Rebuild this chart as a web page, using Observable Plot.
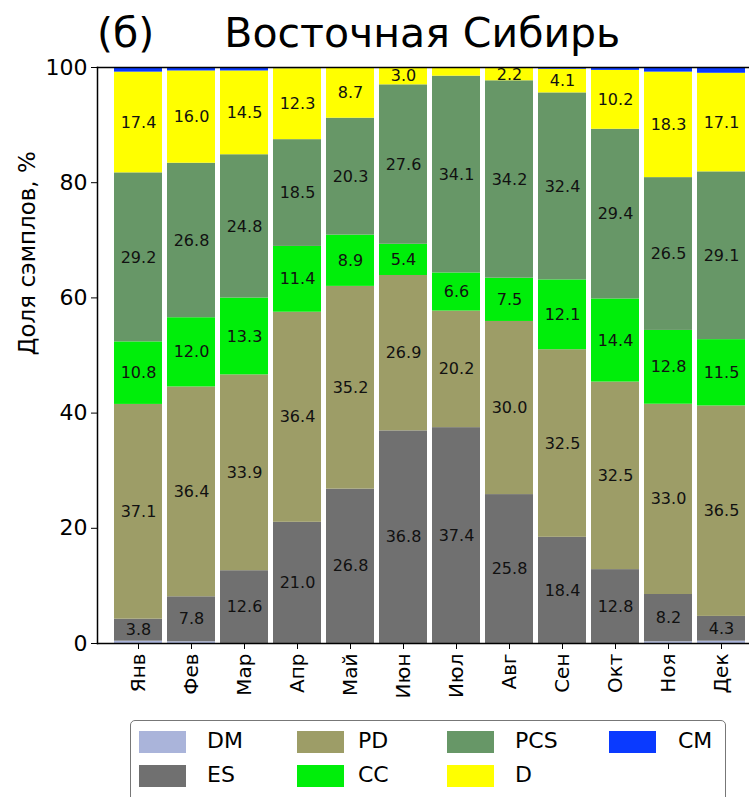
<!DOCTYPE html>
<html>
<head>
<meta charset="utf-8">
<script src="https://cdn.jsdelivr.net/npm/d3@7"></script>
<script src="https://cdn.jsdelivr.net/npm/@observablehq/plot@0.6"></script>
<style>
  body { margin: 0; background: #fff; font-family: "DejaVu Sans", sans-serif; }
  #wrap { position: relative; width: 749px; height: 797px; overflow: hidden; }
  #title { position: absolute; left: 97px; top: 9px; font-size: 41px; white-space: pre; color: #000; line-height: normal; }
  #title .name { margin-left: 70px; }
  #chart { position: absolute; left: 0; top: 0; }
  #legend { position: absolute; left: 130px; top: 720px; width: 596px; height: 90px; border: 1.5px solid #777; border-radius: 5px; box-sizing: border-box; }
  .item { position: absolute; font-size: 22px; color: #000; line-height: normal; }
  .sw { position: absolute; width: 47px; height: 22px; }
</style>
</head>
<body>
<div id="wrap">
  <div id="chart"></div>
  <div id="title"><span>(б)</span><span class="name">Восточная Сибирь</span></div>
  <div id="legend"></div>
</div>
<script>
const months = ["Янв","Фев","Мар","Апр","Май","Июн","Июл","Авг","Сен","Окт","Ноя","Дек"];
const categories = ["DM","ES","PD","CC","PCS","D","CM"];
const colors = ["#aab4da","#707070","#9d9d67","#00ee0a","#679767","#ffff00","#0a3aff"];
const DM  = [0.4, 0.3, 0.0, 0.0, 0.0, 0.0, 0.0, 0.0, 0.0, 0.0, 0.3, 0.4];
const ES  = [3.8, 7.8, 12.6, 21.0, 26.8, 36.8, 37.4, 25.8, 18.4, 12.8, 8.2, 4.3];
const PD  = [37.1, 36.4, 33.9, 36.4, 35.2, 26.9, 20.2, 30.0, 32.5, 32.5, 33.0, 36.5];
const CC  = [10.8, 12.0, 13.3, 11.4, 8.9, 5.4, 6.6, 7.5, 12.1, 14.4, 12.8, 11.5];
const PCS = [29.2, 26.8, 24.8, 18.5, 20.3, 27.6, 34.1, 34.2, 32.4, 29.4, 26.5, 29.1];
const D   = [17.4, 16.0, 14.5, 12.3, 8.7, 3.0, 1.4, 2.2, 4.1, 10.2, 18.3, 17.1];
const CM  = [0.8, 0.6, 0.6, 0.2, 0.1, 0.0, 0.1, 0.1, 0.3, 0.5, 0.8, 1.0];
const yTicks = [0, 20, 40, 60, 80, 100];

const series = [DM, ES, PD, CC, PCS, D, CM];
const data = [];
months.forEach((m, i) => {
  categories.forEach((c, j) => data.push({month: m, cat: c, v: series[j][i]}));
});

const W = 749, H = 700;
const step = 53.45, first = 135;
const r0 = first - 0.55 * step;
const r1 = r0 + 12.1 * step;

const plot = Plot.plot({
  width: W, height: H,
  marginTop: 67, marginBottom: 57, marginLeft: 97, marginRight: 0,
  style: {fontFamily: "DejaVu Sans, sans-serif", background: "transparent", color: "#000"},
  x: {domain: months, range: [r0, r1], padding: 0.1, label: null},
  y: {percent: true, label: null},
  color: {domain: categories, range: colors},
  marks: [
    Plot.barY(data, Plot.stackY({offset: "normalize", x: "month", y: "v", z: "cat", fill: "cat", order: null})),
    Plot.text(data, Plot.stackY({offset: "normalize", x: "month", y: "v", z: "cat", order: null,
      text: d => d.v >= 2 ? d.v.toFixed(1) : "", fontSize: 16, fill: "#111"})),
    Plot.frame({anchor: "left", stroke: "#000", strokeWidth: 1.5}),
    Plot.frame({anchor: "top", stroke: "#000", strokeWidth: 1.5}),
    Plot.frame({anchor: "bottom", stroke: "#000", strokeWidth: 1.5}),
    Plot.axisY({ticks: yTicks, tickFormat: d => d, fontSize: 22, tickSize: 6, tickPadding: 4, label: null}),
    Plot.axisX({tickRotate: -90, fontSize: 20, tickSize: 6, tickPadding: 4, label: null}),
    Plot.text(["Доля сэмплов, %"], {frameAnchor: "left", text: d => d, rotate: -90, dx: -70, fontSize: 23, fill: "#000"})
  ]
});
document.getElementById("chart").appendChild(plot);

// legend (column-major order like matplotlib, 4 columns x 2 rows)
const legend = document.getElementById("legend");
const colX = [8, 166, 316, 478];
const textX = [76, 227, 384, 547];
const rowY = [10, 44];
categories.forEach((c, k) => {
  const col = Math.floor(k / 2), row = k % 2;
  const sw = document.createElement("div");
  sw.className = "sw";
  sw.style.left = colX[col] + "px";
  sw.style.top = rowY[row] + "px";
  sw.style.background = colors[k];
  legend.appendChild(sw);
  const t = document.createElement("div");
  t.className = "item";
  t.textContent = c;
  t.style.left = textX[col] + "px";
  t.style.top = (rowY[row] - 3) + "px";
  legend.appendChild(t);
});
</script>
</body>
</html>
